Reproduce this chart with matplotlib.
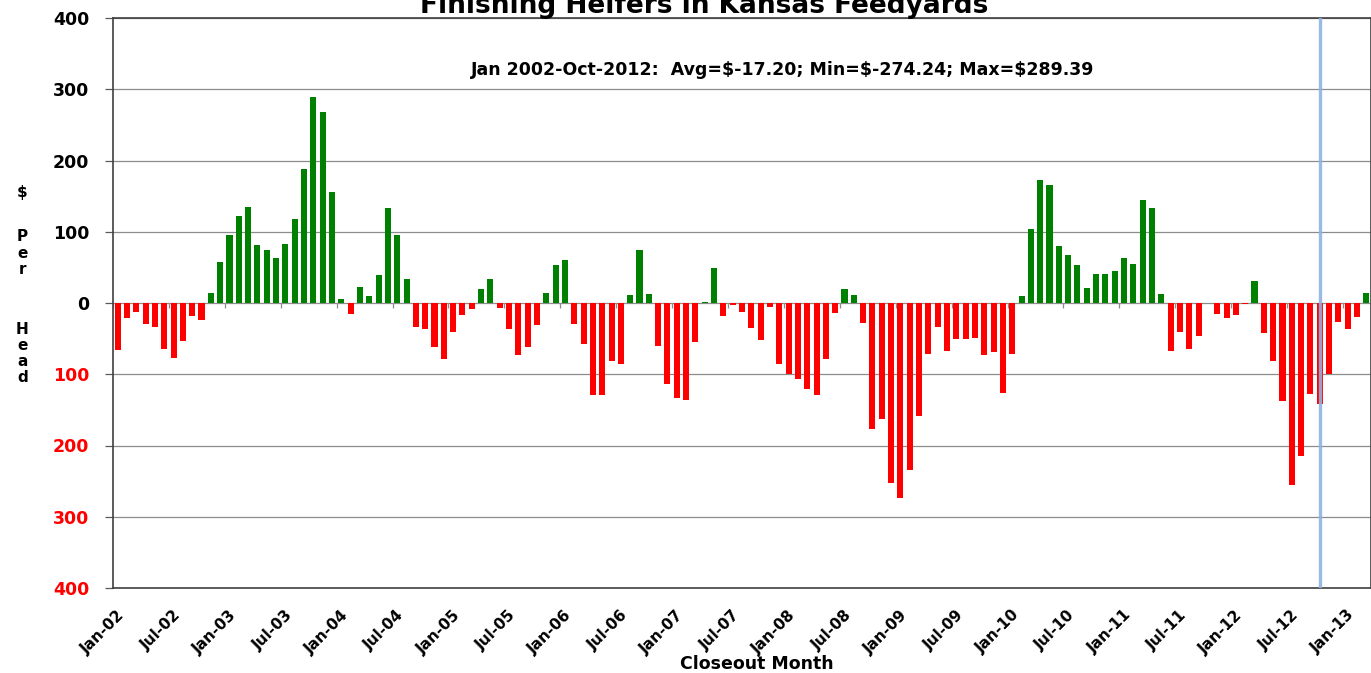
import numpy as np
import matplotlib
matplotlib.use('Agg')
import matplotlib.pyplot as plt
import matplotlib.transforms as mtransforms

# monthly closeout returns, $ per head, Jan-02 .. Mar-13 (Oct-11 not reported)
y2002 = [-65.5, -21, -13, -30, -33, -64, -77, -53, -18, -24, 14.5, 57]
y2003 = [95, 122, 135, 81, 74, 63, 83, 118, 188, 289.39, 268, 156]
y2004 = [6, -15, 22.5, 10, 40, 133, 95, 34, -34, -37, -62, -79]
y2005 = [-41, -17, -8, 19, 33, -7, -37, -73, -62, -31, 14.5, 53]
y2006 = [61, -30, -58, -129, -129, -82, -85, 11, 75, 12, -61, -114]
y2007 = [-133, -136, -55, 2, 49, -18, -3, -12, -35, -52, -6, -86]
y2008 = [-99, -106, -120, -129, -78, -14.5, 19, 11, -28, -177, -163, -252]
y2009 = [-274.24, -235, -159, -71, -34, -67, -51, -51, -49, -73, -69, -126]
y2010 = [-71, 10, 104, 173, 165, 80.5, 67, 54, 21, 41, 41, 45]
y2011 = [63, 55, 145, 133, 12, -67, -41, -64, -47, np.nan, -16, -21]
y2012 = [-17, -1.5, 31, -42, -82, -137, -256, -215, -128, -142, -100, -26]
y2013 = [-36, -20, 14]

tick_labels = ['Jan-02', 'Jul-02', 'Jan-03', 'Jul-03', 'Jan-04', 'Jul-04',
               'Jan-05', 'Jul-05', 'Jan-06', 'Jul-06', 'Jan-07', 'Jul-07',
               'Jan-08', 'Jul-08', 'Jan-09', 'Jul-09', 'Jan-10', 'Jul-10',
               'Jan-11', 'Jul-11', 'Jan-12', 'Jul-12', 'Jan-13']
y_ticks = [400, 300, 200, 100, 0, -100, -200, -300, -400]
last_actual = 129   # Oct-12 (month index from Jan-02)

values = np.array(y2002 + y2003 + y2004 + y2005 + y2006 + y2007 + y2008 +
                  y2009 + y2010 + y2011 + y2012 + y2013, dtype=float)
months = np.arange(len(values))

plt.rcParams['font.family'] = ['DejaVu Sans']
plt.rcParams['font.weight'] = 'bold'

fig = plt.figure(figsize=(13.71, 6.73), dpi=100)
ax = fig.add_axes([113/1371, 1 - 588/673, 1 - 113/1371, (588 - 18)/673])

#Bars, green for profit and red for loss
colors = ['#008000' if v >= 0 else '#ff0000' for v in np.nan_to_num(values)]
ax.bar(months, np.nan_to_num(values), width=0.65, color=colors, zorder=3)

ax.set_xlim(-0.5, len(values) - 0.5)
ax.set_ylim(-400, 400)

#Grid
ax.set_yticks(y_ticks)
ax.set_yticklabels([f'{abs(t)}' for t in y_ticks], fontsize=12.5, fontweight='bold')
for lab, t in zip(ax.get_yticklabels(), y_ticks):
    lab.set_color('#ff0000' if t < 0 else 'black')
ax.yaxis.grid(True, color='#8c8c8c', linewidth=0.9, zorder=0)
ax.tick_params(axis='y', length=6, width=0.9, color='#595959', pad=11)

tick_pos = np.arange(len(tick_labels)) * 6 - 0.5
ax.set_xticks(tick_pos)
ax.set_xticklabels(tick_labels, rotation=45, ha='right', rotation_mode='anchor',
                   fontsize=11, fontweight='bold')
ax.tick_params(axis='x', length=0, pad=14)
for lab in ax.get_xticklabels():
    lab.set_transform(lab.get_transform() + mtransforms.ScaledTranslation(4/100, 0, fig.dpi_scale_trans))

#Small tick marks on the zero line
ax.vlines(tick_pos, -7, 0, color='#8c8c8c', linewidth=0.9, zorder=2)

for side in ['left', 'bottom', 'top', 'right']:
    ax.spines[side].set_color('#404040')
    ax.spines[side].set_linewidth(1.2)

#Divider for last actual month
ax.axvline(months[last_actual], color='#8db3e2', linewidth=2.4, alpha=0.9, zorder=4)

#Stacked y label
trans = mtransforms.blended_transform_factory(ax.transAxes, ax.transData)
ax.text(-0.072, 155, '$', transform=trans, ha='center', va='center', fontsize=11, fontweight='bold')
ax.text(-0.072, 70, 'P\ne\nr', transform=trans, ha='center', va='center', fontsize=11, fontweight='bold', linespacing=1.1)
ax.text(-0.072, -71, 'H\ne\na\nd', transform=trans, ha='center', va='center', fontsize=11, fontweight='bold', linespacing=1.1)

#Summary text
ax.text(0.532, 327, 'Jan 2002-Oct-2012:  Avg=$-17.20; Min=$-274.24; Max=$289.39',
        transform=trans, ha='center', va='center', fontsize=12.5, fontweight='bold')

fig.text(704/1371, 1 - 13/673, 'Finishing Heifers in Kansas Feedyards',
         ha='center', va='baseline', fontsize=19, fontweight='bold')
fig.text(757/1371, 1 - 664/673, 'Closeout Month', ha='center', va='center',
         fontsize=12.5, fontweight='bold')

fig.savefig('out.png', dpi=100)
